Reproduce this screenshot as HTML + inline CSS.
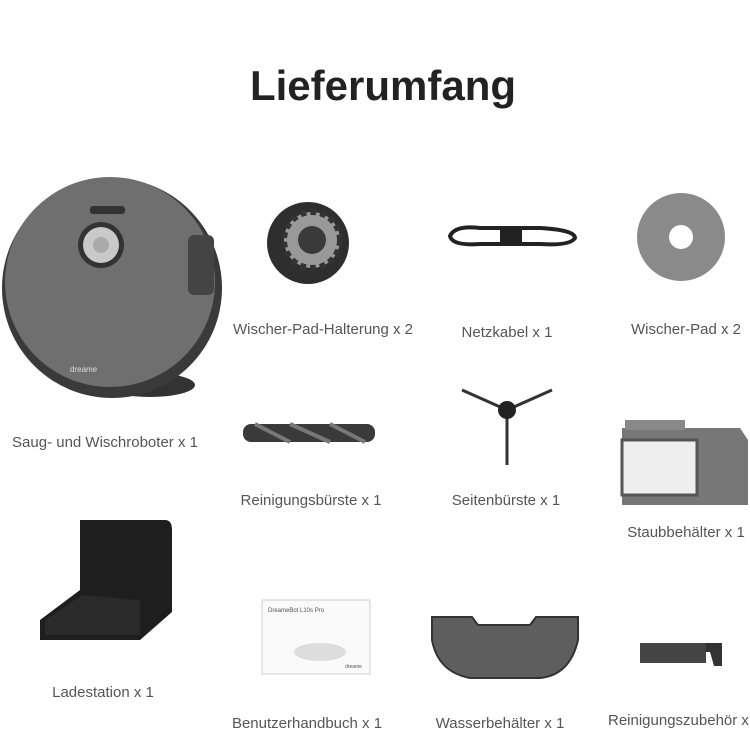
<!DOCTYPE html>
<html><head><meta charset="utf-8"><style>
body{margin:0;width:750px;height:750px;background:#fff;overflow:hidden;position:relative;font-family:"Liberation Sans",sans-serif}
.t{position:absolute;font-size:15px;color:#555;white-space:nowrap;transform:translateX(-50%)}
h1{position:absolute;margin:0;left:0;width:766px;text-align:center;top:62px;font-size:42px;font-weight:bold;color:#222}
svg{position:absolute;left:0;top:0}
</style></head><body>
<h1>Lieferumfang</h1>
<svg width="750" height="750">
<ellipse cx="150" cy="385" rx="45" ry="12" fill="#333"/>
<circle cx="112" cy="288" r="110" fill="#3a3a3a"/>
<circle cx="110" cy="282" r="105" fill="#6f6f70"/>
<rect x="188" y="235" width="26" height="60" rx="6" fill="#444"/>
<circle cx="101" cy="245" r="23" fill="#333"/>
<circle cx="101" cy="245" r="18" fill="#c9c9c9"/>
<circle cx="101" cy="245" r="8" fill="#aaa"/>
<rect x="90" y="206" width="35" height="8" rx="3" fill="#333"/>
<text x="70" y="372" font-size="8" fill="#ddd" font-family="Liberation Sans">dreame</text>
<circle cx="308" cy="243" r="41" fill="#2e2e2e"/>
<circle cx="312" cy="240" r="28" fill="#999" stroke="#333" stroke-width="6" stroke-dasharray="6 4"/>
<circle cx="312" cy="240" r="14" fill="#3a3a3a"/>
<path d="M450 236 Q455 225 480 228 L540 228 Q575 230 575 238 Q570 246 540 244 L480 244 Q452 246 450 236Z" fill="none" stroke="#222" stroke-width="4"/>
<rect x="500" y="229" width="22" height="14" fill="#222"/>
<circle cx="681" cy="237" r="44" fill="#8a8a8a"/>
<circle cx="681" cy="237" r="12" fill="#fff"/>
<rect x="243" y="424" width="132" height="18" rx="8" fill="#3a3a3a"/>
<path d="M255 424 L290 442 M290 424 L330 442 M330 424 L365 442" stroke="#777" stroke-width="4"/>
<path d="M507 410 L462 390 M507 410 L552 390 M507 410 L507 465" stroke="#333" stroke-width="3"/>
<circle cx="507" cy="410" r="9" fill="#222"/>
<path d="M622 428 L740 428 L748 440 L748 505 L622 505 Z" fill="#777"/>
<rect x="622" y="440" width="75" height="55" fill="#eee" stroke="#555" stroke-width="3"/>
<rect x="625" y="420" width="60" height="10" fill="#888"/>
<path d="M80 520 L165 520 Q172 520 172 530 L172 612 L140 640 L40 640 L40 620 L80 590 Z" fill="#1e1e1e"/>
<path d="M45 620 L82 595 L140 600 L140 635 L45 635 Z" fill="#2a2a2a"/>
<rect x="262" y="600" width="108" height="74" fill="#fafafa" stroke="#ccc"/>
<ellipse cx="320" cy="652" rx="26" ry="9" fill="#ddd"/>
<text x="268" y="612" font-size="6" fill="#555">DreameBot L10s Pro</text>
<text x="345" y="668" font-size="5" fill="#555">dreame</text>
<path d="M432 617 L472 617 L478 625 L530 625 L536 617 L578 617 L578 640 Q570 675 540 678 L470 678 Q438 672 432 640 Z" fill="#5e5e5e" stroke="#333" stroke-width="2"/>
<rect x="640" y="643" width="66" height="20" fill="#444"/>
<path d="M706 643 L722 643 L722 666 L714 666 L710 652 L706 652Z" fill="#333"/>
</svg>
<div class="t" style="left:105px;top:434px">Saug- und Wischroboter x 1</div>
<div class="t" style="left:323px;top:321px">Wischer-Pad-Halterung x 2</div>
<div class="t" style="left:507px;top:324px">Netzkabel x 1</div>
<div class="t" style="left:686px;top:321px">Wischer-Pad x 2</div>
<div class="t" style="left:311px;top:492px">Reinigungsbürste x 1</div>
<div class="t" style="left:506px;top:492px">Seitenbürste x 1</div>
<div class="t" style="left:686px;top:524px">Staubbehälter x 1</div>
<div class="t" style="left:103px;top:684px">Ladestation x 1</div>
<div class="t" style="left:307px;top:715px">Benutzerhandbuch x 1</div>
<div class="t" style="left:500px;top:715px">Wasserbehälter x 1</div>
<div class="t" style="left:608px;top:712px;transform:none">Reinigungszubehör x 1</div>
</body></html>
